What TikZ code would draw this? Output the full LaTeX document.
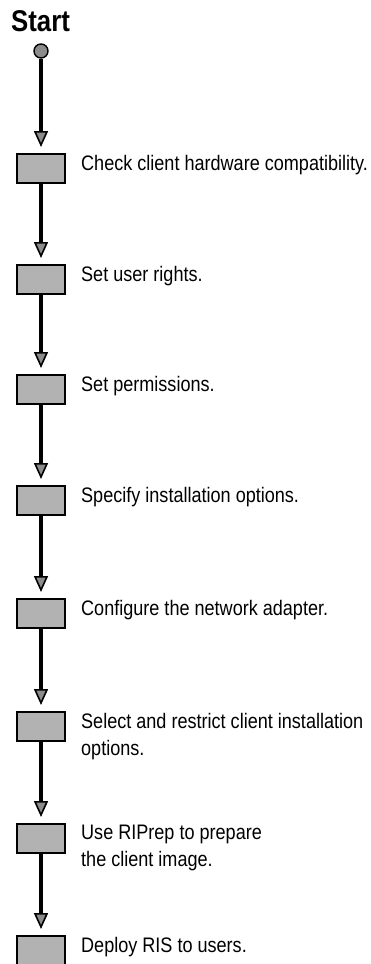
\documentclass[tikz,border=0pt]{standalone}
\usepackage{fontspec}
\setmainfont{Liberation Sans}[FakeStretch=0.86]
\usetikzlibrary{arrows.meta}

\begin{document}
\begin{tikzpicture}[x=1pt,y=-1pt,
  stepbox/.style={draw=black, line width=2pt, fill=black!30,
    minimum width=48pt, minimum height=29pt, inner sep=0pt, anchor=north},
  steplabel/.style={anchor=north west, inner sep=0pt, align=left,
    font=\fontsize{21}{27}\selectfont},
  flow/.style={line width=3.2pt,
    -{Triangle[length=16pt,width=14pt,fill=black!45,line width=1.6pt]},
    shorten >=6pt},
  startdot/.style={circle, draw=black, line width=1.4pt, fill=black!45,
    minimum size=14pt, inner sep=0pt}
]
\fill[white] (0,0) rectangle (371,964);
\useasboundingbox (0,0) rectangle (371,964);

% title and start point
\node[anchor=north west, inner sep=0pt, font=\fontsize{30}{32}\selectfont\bfseries]
  (title) at (11,10) {Start};
\node[startdot] (start) at (41,51) {};

% process steps
\node[stepbox] (b1) at (41,153) {};
\node[stepbox] (b2) at (41,264) {};
\node[stepbox] (b3) at (41,374) {};
\node[stepbox] (b4) at (41,485) {};
\node[stepbox] (b5) at (41,598) {};
\node[stepbox] (b6) at (41,711) {};
\node[stepbox] (b7) at (41,823) {};
\node[stepbox] (b8) at (41,935) {};

% step descriptions
\node[steplabel] (l1) at (81,155) {Check client hardware compatibility.};
\node[steplabel] (l2) at (81,266) {Set user rights.};
\node[steplabel] (l3) at (81,376) {Set permissions.};
\node[steplabel] (l4) at (81,487) {Specify installation options.};
\node[steplabel] (l5) at (81,600) {Configure the network adapter.};
\node[steplabel] (l6) at (81,713) {Select and restrict client installation\\options.};
\node[steplabel] (l7) at (81,825) {Use RIPrep to prepare\\the client image.};
\node[steplabel] (l8) at (81,937) {Deploy RIS to users.};

% connectors
\draw[flow] (start.south) -- (b1.north);
\draw[flow] (b1.south) -- (b2.north);
\draw[flow] (b2.south) -- (b3.north);
\draw[flow] (b3.south) -- (b4.north);
\draw[flow] (b4.south) -- (b5.north);
\draw[flow] (b5.south) -- (b6.north);
\draw[flow] (b6.south) -- (b7.north);
\draw[flow] (b7.south) -- (b8.north);
\end{tikzpicture}
\end{document}
